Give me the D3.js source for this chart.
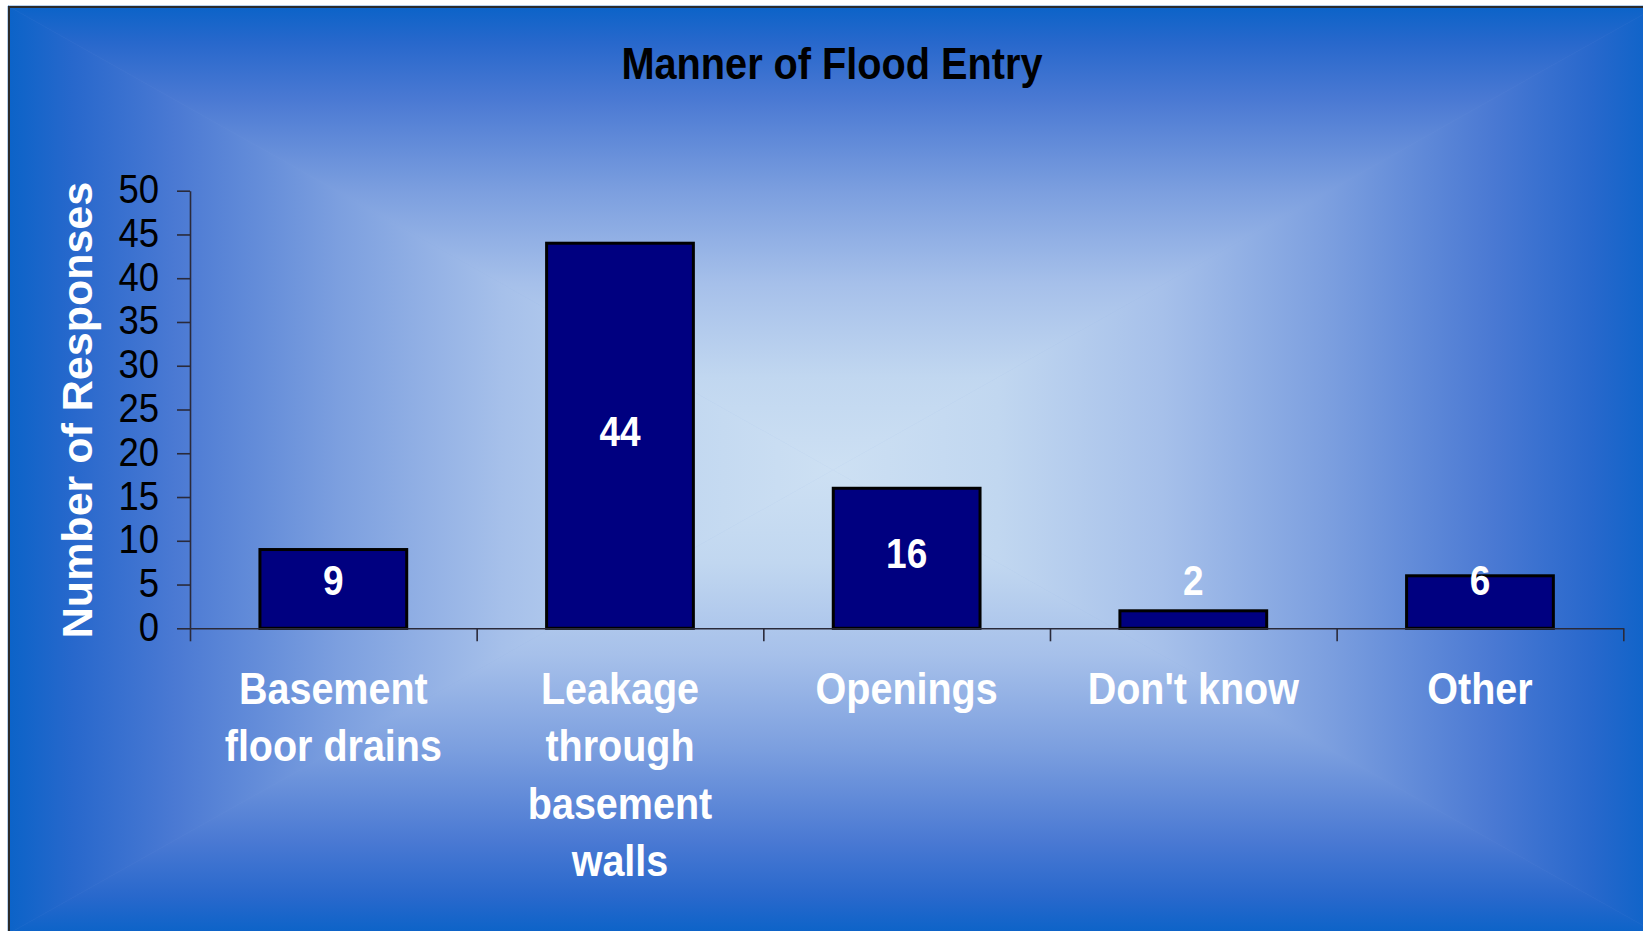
<!DOCTYPE html>
<html>
<head>
<meta charset="utf-8">
<script src="https://cdn.jsdelivr.net/npm/d3@7"></script>
<style>
  html, body { margin: 0; padding: 0; background: #ffffff; overflow: hidden; }
  svg { display: block; }
  text { font-family: "Liberation Sans", Arial, sans-serif; }
</style>
</head>
<body>
<svg id="chart" width="1643" height="931"></svg>
<script>
// ---- data ----
const categories = ["Basement floor drains", "Leakage through basement walls", "Openings", "Don't know", "Other"];
const categoryLines = [["Basement", "floor drains"], ["Leakage", "through", "basement", "walls"], ["Openings"], ["Don't know"], ["Other"]];
const responses = [9, 44, 16, 2, 6];
const yTicks = [0, 5, 10, 15, 20, 25, 30, 35, 40, 45, 50];
const chartTitle = "Manner of Flood Entry";
const yTitle = "Number of Responses";

// ---- layout ----
const W = 1643, H = 931;
const frame = { x0: 8, y0: 6, x1: 1658, y1: 934 };
const center = { x: 833, y: 470 };
const plot = { left: 190, right: 1623.3, top: 190.7, bottom: 628.3 };
const stretch = 1.13;

const svg = d3.select("#chart");
const defs = svg.append("defs");

// box ("from center") gradient built from four triangles
const stops = [
  [0, "#0b63c8"], [0.08, "#2868cc"], [0.2, "#4a79d3"], [0.4, "#7c9fdf"],
  [0.6, "#a6c0ea"], [0.8, "#c1d7f0"], [1, "#cde0f3"]
];
function makeGrad(id, x1, y1, x2, y2) {
  const g = defs.append("linearGradient").attr("id", id)
    .attr("gradientUnits", "userSpaceOnUse")
    .attr("x1", x1).attr("y1", y1).attr("x2", x2).attr("y2", y2);
  stops.forEach(s => g.append("stop").attr("offset", s[0]).attr("stop-color", s[1]));
}
makeGrad("gTop", 0, frame.y0, 0, center.y);
makeGrad("gBot", 0, frame.y1, 0, center.y);
makeGrad("gLeft", frame.x0, 0, center.x, 0);
makeGrad("gRight", frame.x1, 0, center.x, 0);

const bg = svg.append("g");
bg.append("rect").attr("x", frame.x0).attr("y", frame.y0)
  .attr("width", frame.x1 - frame.x0).attr("height", frame.y1 - frame.y0).attr("fill", "#7c9fdf");
const tris = [
  ["gTop", [[frame.x0, frame.y0], [frame.x1, frame.y0], [center.x, center.y]]],
  ["gBot", [[frame.x0, frame.y1], [frame.x1, frame.y1], [center.x, center.y]]],
  ["gLeft", [[frame.x0, frame.y0], [frame.x0, frame.y1], [center.x, center.y]]],
  ["gRight", [[frame.x1, frame.y0], [frame.x1, frame.y1], [center.x, center.y]]]
];
tris.forEach(t => {
  bg.append("polygon").attr("points", t[1].map(p => p.join(",")).join(" "))
    .attr("fill", `url(#${t[0]})`).attr("stroke", `url(#${t[0]})`).attr("stroke-width", 0.6);
});
bg.append("rect").attr("x", 9).attr("y", 7)
  .attr("width", frame.x1 - 9).attr("height", frame.y1 - 7)
  .attr("fill", "none").attr("stroke", "#2b2b2b").attr("stroke-width", 2);

// ---- scales ----
const x = d3.scaleBand().domain(categories).range([plot.left, plot.right])
  .paddingInner(0.488).paddingOuter(0.244);
const xBound = d3.scaleLinear().domain([0, categories.length]).range([plot.left, plot.right]);
const y = d3.scaleLinear().domain([0, 50]).range([plot.bottom, plot.top]);

// ---- bars ----
svg.append("g").selectAll("rect").data(responses).join("rect")
  .attr("x", (d, i) => x(categories[i]))
  .attr("y", d => y(d))
  .attr("width", x.bandwidth())
  .attr("height", d => y(0) - y(d))
  .attr("fill", "#000080")
  .attr("stroke", "#000000")
  .attr("stroke-width", 3);

// ---- axes ----
const yAxis = svg.append("g").attr("transform", `translate(${plot.left},0)`)
  .call(d3.axisLeft(y).tickValues(yTicks).tickSize(13).tickSizeOuter(0).tickFormat(""));
const xAxis = svg.append("g").attr("transform", `translate(0,${plot.bottom})`)
  .call(d3.axisBottom(xBound).ticks(categories.length).tickSize(13).tickSizeOuter(0).tickFormat(""));
[yAxis, xAxis].forEach(a => {
  a.select(".domain").attr("stroke", "#2a2a3a").attr("stroke-width", 1.6);
  a.selectAll(".tick line").attr("stroke", "#2a2a3a").attr("stroke-width", 1.6);
});

// y tick labels
svg.append("g").selectAll("text").data(yTicks).join("text")
  .attr("transform", d => `translate(159,${y(d) + 12.5}) scale(1,${stretch})`)
  .attr("text-anchor", "end")
  .attr("font-size", 36.5)
  .attr("fill", "#000000")
  .text(d => d);

// category labels
const catG = svg.append("g").selectAll("g").data(categories).join("g")
  .attr("transform", d => `translate(${x(d) + x.bandwidth() / 2},0)`);
catG.each(function (d, i) {
  d3.select(this).selectAll("text").data(categoryLines[i]).join("text")
    .attr("transform", (l, j) => `translate(0,${704 + j * 57.3}) scale(1,${stretch})`)
    .attr("text-anchor", "middle")
    .attr("font-size", 39.5)
    .attr("font-weight", "bold")
    .attr("fill", "#ffffff")
    .text(l => l);
});

// value labels
svg.append("g").selectAll("text").data(responses).join("text")
  .attr("transform", (d, i) => {
    const cy = Math.min((y(d) + y(0)) / 2 - 5, 580);
    return `translate(${x(categories[i]) + x.bandwidth() / 2},${cy + 15}) scale(1,${stretch})`;
  })
  .attr("text-anchor", "middle")
  .attr("font-size", 37)
  .attr("font-weight", "bold")
  .attr("fill", "#ffffff")
  .text(d => d);

// title
svg.append("text")
  .attr("transform", `translate(832,79) scale(1,1.13)`)
  .attr("text-anchor", "middle")
  .attr("font-size", 39.7)
  .attr("font-weight", "bold")
  .attr("fill", "#000000")
  .text(chartTitle);

// y axis title
svg.append("text")
  .attr("transform", `translate(91.5,410) rotate(-90)`)
  .attr("text-anchor", "middle")
  .attr("font-size", 43)
  .attr("font-weight", "bold")
  .attr("fill", "#ffffff")
  .text(yTitle);
</script>
</body>
</html>
